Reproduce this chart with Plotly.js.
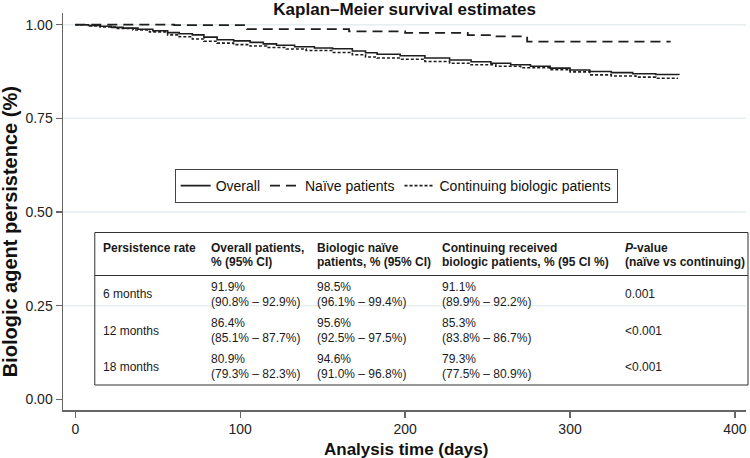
<!DOCTYPE html>
<html>
<head>
<meta charset="utf-8">
<script src="https://cdn.plot.ly/plotly-3.0.1.min.js"></script>
<style>html,body{margin:0;padding:0;background:#fff}#chart{width:750px;height:458px}</style>
</head>
<body>
<div id="chart"></div>
<script>
// ---------- data ----------
const overallTime = [0, 8, 15, 22, 29, 38, 47, 56, 63, 71, 78, 86, 96, 106, 114, 122, 133, 145, 156, 168, 176, 183, 197, 212, 227, 240, 252, 264, 276, 288, 300, 312, 325, 338, 352, 366];
const overallSurv = [1.000, 0.998, 0.996, 0.993, 0.991, 0.988, 0.984, 0.979, 0.976, 0.973, 0.967, 0.960, 0.957, 0.953, 0.949, 0.945, 0.941, 0.938, 0.936, 0.930, 0.925, 0.921, 0.917, 0.911, 0.906, 0.901, 0.897, 0.893, 0.889, 0.884, 0.879, 0.875, 0.872, 0.869, 0.867, 0.866];

const naiveTime = [0, 60, 104, 166, 200, 238, 252, 274, 361];
const naiveSurv = [1.000, 0.999, 0.988, 0.982, 0.978, 0.972, 0.969, 0.955, 0.955];

const contTime = [0, 8, 15, 25, 35, 45, 56, 63, 71, 78, 86, 96, 106, 116, 128, 140, 156, 168, 176, 183, 197, 212, 227, 240, 255, 270, 288, 300, 312, 325, 340, 352, 365];
const contSurv = [1.000, 0.997, 0.994, 0.990, 0.986, 0.981, 0.973, 0.968, 0.962, 0.956, 0.951, 0.947, 0.943, 0.939, 0.935, 0.931, 0.926, 0.920, 0.914, 0.911, 0.908, 0.902, 0.897, 0.893, 0.889, 0.885, 0.880, 0.874, 0.866, 0.863, 0.860, 0.857, 0.855];

const seriesNames = ["Overall", "Naïve patients", "Continuing biologic patients"];

const yTicks = [0, 0.25, 0.5, 0.75, 1];
const yTickText = ["0.00", "0.25", "0.50", "0.75", "1.00"];
const xTicks = [0, 100, 200, 300, 400];
const gridVals = [0.25, 0.5, 0.75, 1];

// table contents
const tableHeader = [["Persistence rate"], ["Overall patients,", "% (95% CI)"], ["Biologic naïve", "patients, % (95% CI)"], ["Continuing received", "biologic patients, % (95 CI %)"], ["<i>P</i>-value", "(naïve vs continuing)"]];
const rowLabels = ["6 months", "12 months", "18 months"];
const overallRate = ["91.9%", "86.4%", "80.9%"];
const overallCI = ["(90.8% – 92.9%)", "(85.1% – 87.7%)", "(79.3% – 82.3%)"];
const naiveRate = ["98.5%", "95.6%", "94.6%"];
const naiveCI = ["(96.1% – 99.4%)", "(92.5% – 97.5%)", "(91.0% – 96.8%)"];
const contRate = ["91.1%", "85.3%", "79.3%"];
const contCI = ["(89.9% – 92.2%)", "(83.8% – 86.7%)", "(77.5% – 80.9%)"];
const pValues = ["0.001", "<0.001", "<0.001"];

// ---------- layout helpers (pixel -> paper) ----------
const L = 62.7, R = 746, T = 13, B = 410;
const PX = x => (x - L) / (R - L);
const PY = y => (B - y) / (B - T);
const FONT = "Liberation Sans, Arial, Helvetica, sans-serif";
const ink = "#1e1e1e";

const traces = [
  {x: overallTime, y: overallSurv, name: seriesNames[0], mode: "lines",
   line: {shape: "hv", color: ink, width: 1.6, dash: "solid"}},
  {x: naiveTime, y: naiveSurv, name: seriesNames[1], mode: "lines",
   line: {shape: "hv", color: ink, width: 1.8, dash: "10px,6px"}},
  {x: contTime, y: contSurv, name: seriesNames[2], mode: "lines",
   line: {shape: "hv", color: ink, width: 1.6, dash: "3px,2px"}}
];

const shapes = [];
gridVals.forEach(v => shapes.push({type: "line", xref: "paper", yref: "y", x0: 0, x1: 1, y0: v, y1: v,
  line: {color: "#e6eef0", width: 1.5}, layer: "below"}));
// table frame
const tL = 94.5, tR = 748, tT = 232.5, tB = 385, tH = 275.5;
shapes.push({type: "rect", xref: "paper", yref: "paper", x0: PX(tL), x1: PX(tR), y0: PY(tT), y1: PY(tB),
  line: {color: "#333", width: 1}, fillcolor: "rgba(0,0,0,0)", layer: "above"});
shapes.push({type: "line", xref: "paper", yref: "paper", x0: PX(tL), x1: PX(tR), y0: PY(tH), y1: PY(tH),
  line: {color: "#333", width: 1}, layer: "above"});

const annotations = [];
const colX = [100.5, 209, 315, 439.5, 622.5];
const hdrY = [248, 262];
function addText(txt, x, y, bold) {
  annotations.push({text: bold ? "<b>" + txt + "</b>" : txt, xref: "paper", yref: "paper",
    x: PX(x), y: PY(y), xanchor: "left", yanchor: "middle", showarrow: false, align: "left",
    font: {family: FONT, size: 12, color: "#1a1a1a"}});
}
tableHeader.forEach((lines, c) => lines.forEach((ln, i) => addText(ln, colX[c], hdrY[i], true)));
const rowTop = [286.7, 323.3, 359];
const rowGap = 15;
rowLabels.forEach((lab, r) => {
  const mid = rowTop[r] + rowGap / 2;
  addText(lab, colX[0], mid, false);
  addText(overallRate[r], colX[1], rowTop[r], false);
  addText(overallCI[r], colX[1], rowTop[r] + rowGap, false);
  addText(naiveRate[r], colX[2], rowTop[r], false);
  addText(naiveCI[r], colX[2], rowTop[r] + rowGap, false);
  addText(contRate[r], colX[3], rowTop[r], false);
  addText(contCI[r], colX[3], rowTop[r] + rowGap, false);
  addText(pValues[r], colX[4], mid, false);
});
// axis titles
annotations.push({text: "<b>Biologic agent persistence (%)</b>", xref: "paper", yref: "paper",
  x: PX(10), y: PY(232), xanchor: "center", yanchor: "middle", textangle: -90, showarrow: false,
  font: {family: FONT, size: 20, color: "#111"}});
annotations.push({text: "<b>Analysis time (days)</b>", xref: "paper", yref: "paper",
  x: PX(405.5), y: PY(449), xanchor: "center", yanchor: "middle", showarrow: false,
  font: {family: FONT, size: 17, color: "#111"}});

const layout = {
  width: 750, height: 458,
  margin: {l: L, r: 750 - R, t: T, b: 458 - B, pad: 0},
  paper_bgcolor: "#fff", plot_bgcolor: "#fff",
  title: {text: "<b>Kaplan–Meier survival estimates</b>", x: 404.7 / 750, xanchor: "center",
    xref: "container", yref: "container", y: 1 - 9 / 458, yanchor: "middle",
    font: {family: FONT, size: 17, color: "#111"}},
  xaxis: {range: [-7.45, 406.7], tickvals: xTicks, ticks: "outside", ticklen: 6, tickwidth: 1.3,
    tickcolor: "#666", showline: true, linecolor: "#666", linewidth: 1.5, showgrid: false, zeroline: false,
    tickfont: {family: FONT, size: 14, color: "#222"}},
  yaxis: {range: [-0.0286, 1.0313], tickvals: yTicks, ticktext: yTickText, ticks: "outside", ticklen: 6,
    tickwidth: 1.3, tickcolor: "#666", showline: true, linecolor: "#666", linewidth: 1.5, showgrid: false,
    zeroline: false, tickfont: {family: FONT, size: 14, color: "#222"}},
  showlegend: true,
  legend: {orientation: "h", x: PX(396), xanchor: "center", y: PY(169), yanchor: "top",
    bordercolor: "#444", borderwidth: 1, bgcolor: "#fff",
    font: {family: FONT, size: 14, color: "#111"}},
  shapes: shapes,
  annotations: annotations
};

Plotly.newPlot("chart", traces, layout, {displayModeBar: false, staticPlot: true});
</script>
</body>
</html>
